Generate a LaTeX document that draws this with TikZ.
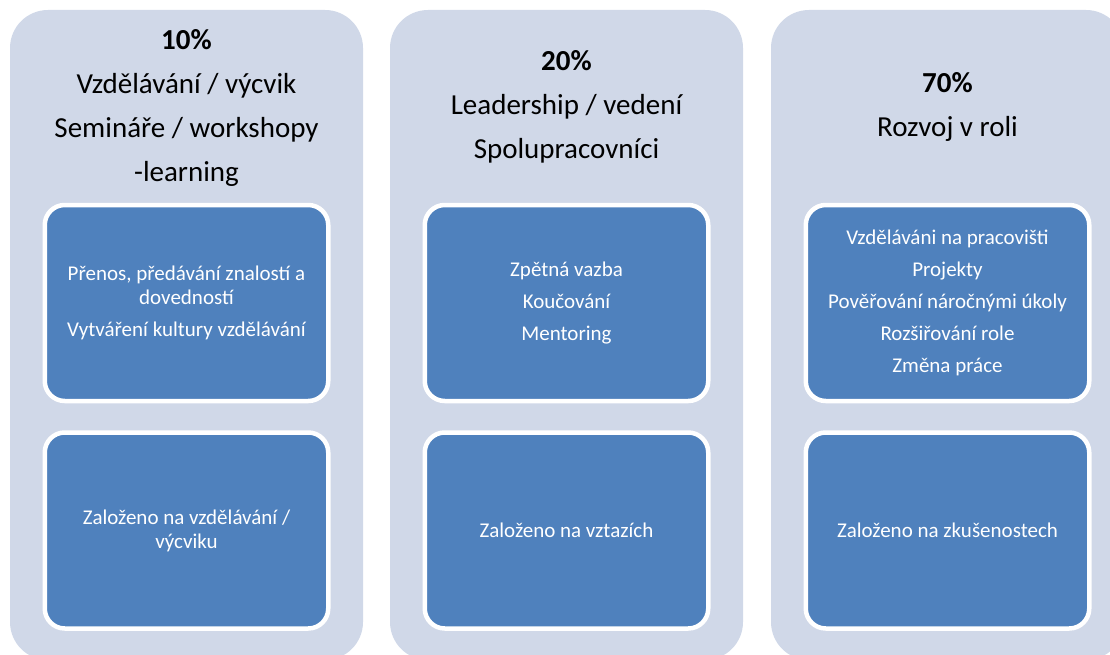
\documentclass[tikz,border=0pt]{standalone}
\usepackage{fontspec}
\setmainfont{Carlito}
\usetikzlibrary{positioning}
\definecolor{panelgray}{HTML}{D0D8E8}
\definecolor{boxblue}{HTML}{4F81BD}

\begin{document}
\begin{tikzpicture}[x=1pt, y=-1pt,
        panel/.style={rounded corners=38pt, fill=panelgray, minimum width=353pt, minimum height=650pt, inner sep=0pt},
        head/.style={align=center, text=black, font=\fontsize{29}{44}\selectfont},
        item box/.style={rounded corners=20pt, fill=boxblue, draw=white, line width=4.5pt,
            minimum width=283.5pt, minimum height=196pt, inner sep=0pt, align=center,
            text=white, font=\fontsize{21}{24}\selectfont}
    ]
    \useasboundingbox (0,0) rectangle (1110,655);
    \clip (0,0) rectangle (1110,655);

    % three columns
    \node[panel] (p1) at (186.5,335) {};
    \node[panel] (p2) at (566.5,335) {};
    \node[panel] (p3) at (947.5,335) {};

    % headings
    \node[head] (h1) at (186.5,108) {\textbf{10\%}\\Vzdělávání / výcvik\\Semináře / workshopy\\-learning};
    \node[head] (h2) at (566.5,107) {\textbf{20\%}\\Leadership / vedení\\Spolupracovníci};
    \node[head] (h3) at (947.5,107) {\textbf{70\%}\\Rozvoj v roli};

    % upper boxes
    \node[item box] (t1) at (186.5,303) {Přenos, předávání znalostí a\\dovedností\\[8pt]Vytváření kultury vzdělávání};
    \node[item box] (t2) at (566.5,303) {Zpětná vazba\\[8pt]Koučování\\[8pt]Mentoring};
    \node[item box] (t3) at (947.5,303) {Vzděláváni na pracovišti\\[8pt]Projekty\\[8pt]Pověřování náročnými úkoly\\[8pt]Rozšiřování role\\[8pt]Změna práce};

    % lower boxes
    \node[item box, below=27pt of t1] (b1) {Založeno na vzdělávání /\\výcviku};
    \node[item box, below=27pt of t2] (b2) {Založeno na vztazích};
    \node[item box, below=27pt of t3] (b3) {Založeno na zkušenostech};
\end{tikzpicture}
\end{document}
